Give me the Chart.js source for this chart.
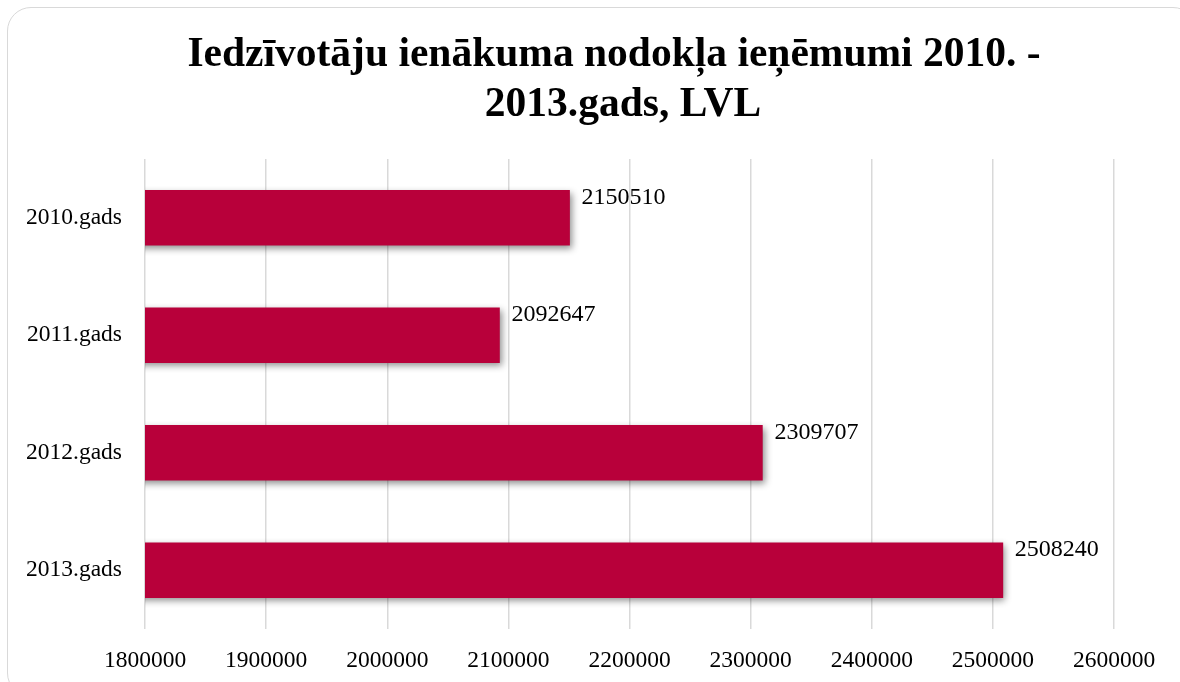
<!DOCTYPE html>
<html>
<head>
<meta charset="utf-8">
<script src="https://cdn.jsdelivr.net/npm/chart.js@4"></script>
<style>
  html, body { margin: 0; padding: 0; background: #fff; overflow: hidden; }
  #wrap { position: relative; width: 1180px; height: 682px; }
  #frame {
    position: absolute; left: 7px; top: 7px; width: 1190px; height: 690px;
    border: 1.5px solid #d9d9d9; border-radius: 24px; box-sizing: border-box;
  }
  canvas { position: absolute; left: 0; top: 0; }
</style>
</head>
<body>
<div id="wrap">
  <div id="frame"></div>
  <canvas id="chart" width="1180" height="682"></canvas>
</div>
<script>
// Dati
const gadi = ['2010.gads', '2011.gads', '2012.gads', '2013.gads'];
const ienemumi = [2150510, 2092647, 2309707, 2508240];
const virsraksts = ['Iedzīvotāju ienākuma nodokļa ieņēmumi 2010. -', '2013.gads, LVL'];
const asMin = 1800000;
const asMax = 2600000;
const asSolis = 100000;

const serif = '"Liberation Serif", "Times New Roman", serif';

// Virsraksts (zīmēts pašu spēkiem, lai centrs sakristu ar oriģinālu)
const virsrakstsPlugin = {
    id: 'virsraksts',
    afterDraw(chart) {
        const ctx = chart.ctx;
        ctx.save();
        ctx.font = 'bold 41.5px ' + serif;
        ctx.fillStyle = '#000';
        ctx.textAlign = 'center';
        ctx.textBaseline = 'alphabetic';
        ctx.fillText(virsraksts[0], 614, 66);
        ctx.fillText(virsraksts[1], 623, 116);
        ctx.restore();
    }
};

// Ēna stabiņiem
const enaPlugin = {
    id: 'ena',
    beforeDatasetDraw(chart) {
        const ctx = chart.ctx;
        ctx.save();
        ctx.shadowColor = 'rgba(0,0,0,0.45)';
        ctx.shadowBlur = 7;
        ctx.shadowOffsetX = 2;
        ctx.shadowOffsetY = 3;
    },
    afterDatasetDraw(chart) {
        chart.ctx.restore();
    }
};

// Vērtību uzraksti
const uzrakstiPlugin = {
    id: 'uzraksti',
    afterDatasetsDraw(chart) {
        const ctx = chart.ctx;
        const meta = chart.getDatasetMeta(0);
        ctx.save();
        ctx.font = '24px ' + serif;
        ctx.fillStyle = '#000';
        ctx.textAlign = 'left';
        ctx.textBaseline = 'middle';
        meta.data.forEach((bar, i) => {
            const top = bar.y - bar.height / 2;
            ctx.fillText(String(ienemumi[i]), bar.x + 12, top + 7);
        });
        ctx.restore();
    }
};

new Chart(document.getElementById('chart'), {
    type: 'bar',
    data: {
        labels: gadi,
        datasets: [{
            data: ienemumi,
            backgroundColor: '#B8003A',
            borderWidth: 0,
            barThickness: 55
        }]
    },
    options: {
        indexAxis: 'y',
        responsive: false,
        animation: false,
        layout: {
            padding: { left: 0, right: 66, top: 159, bottom: 0 }
        },
        plugins: {
            legend: { display: false },
            tooltip: { enabled: false },
            title: { display: false }
        },
        scales: {
            x: {
                min: asMin,
                max: asMax,
                ticks: {
                    stepSize: asSolis,
                    color: '#000',
                    font: { family: serif, size: 23.5 },
                    padding: 18,
                    maxRotation: 0,
                    callback: (v) => String(v)
                },
                grid: { color: '#d9d9d9', lineWidth: 1.5, drawTicks: false },
                border: { display: false },
                afterFit(scale) { scale.height = 53; }
            },
            y: {
                ticks: {
                    color: '#000',
                    font: { family: serif, size: 23.5 },
                    padding: 23
                },
                grid: { display: false, drawTicks: false },
                border: { display: false },
                afterFit(scale) { scale.width = 145; }
            }
        }
    },
    plugins: [enaPlugin, uzrakstiPlugin, virsrakstsPlugin]
});
</script>
</body>
</html>
